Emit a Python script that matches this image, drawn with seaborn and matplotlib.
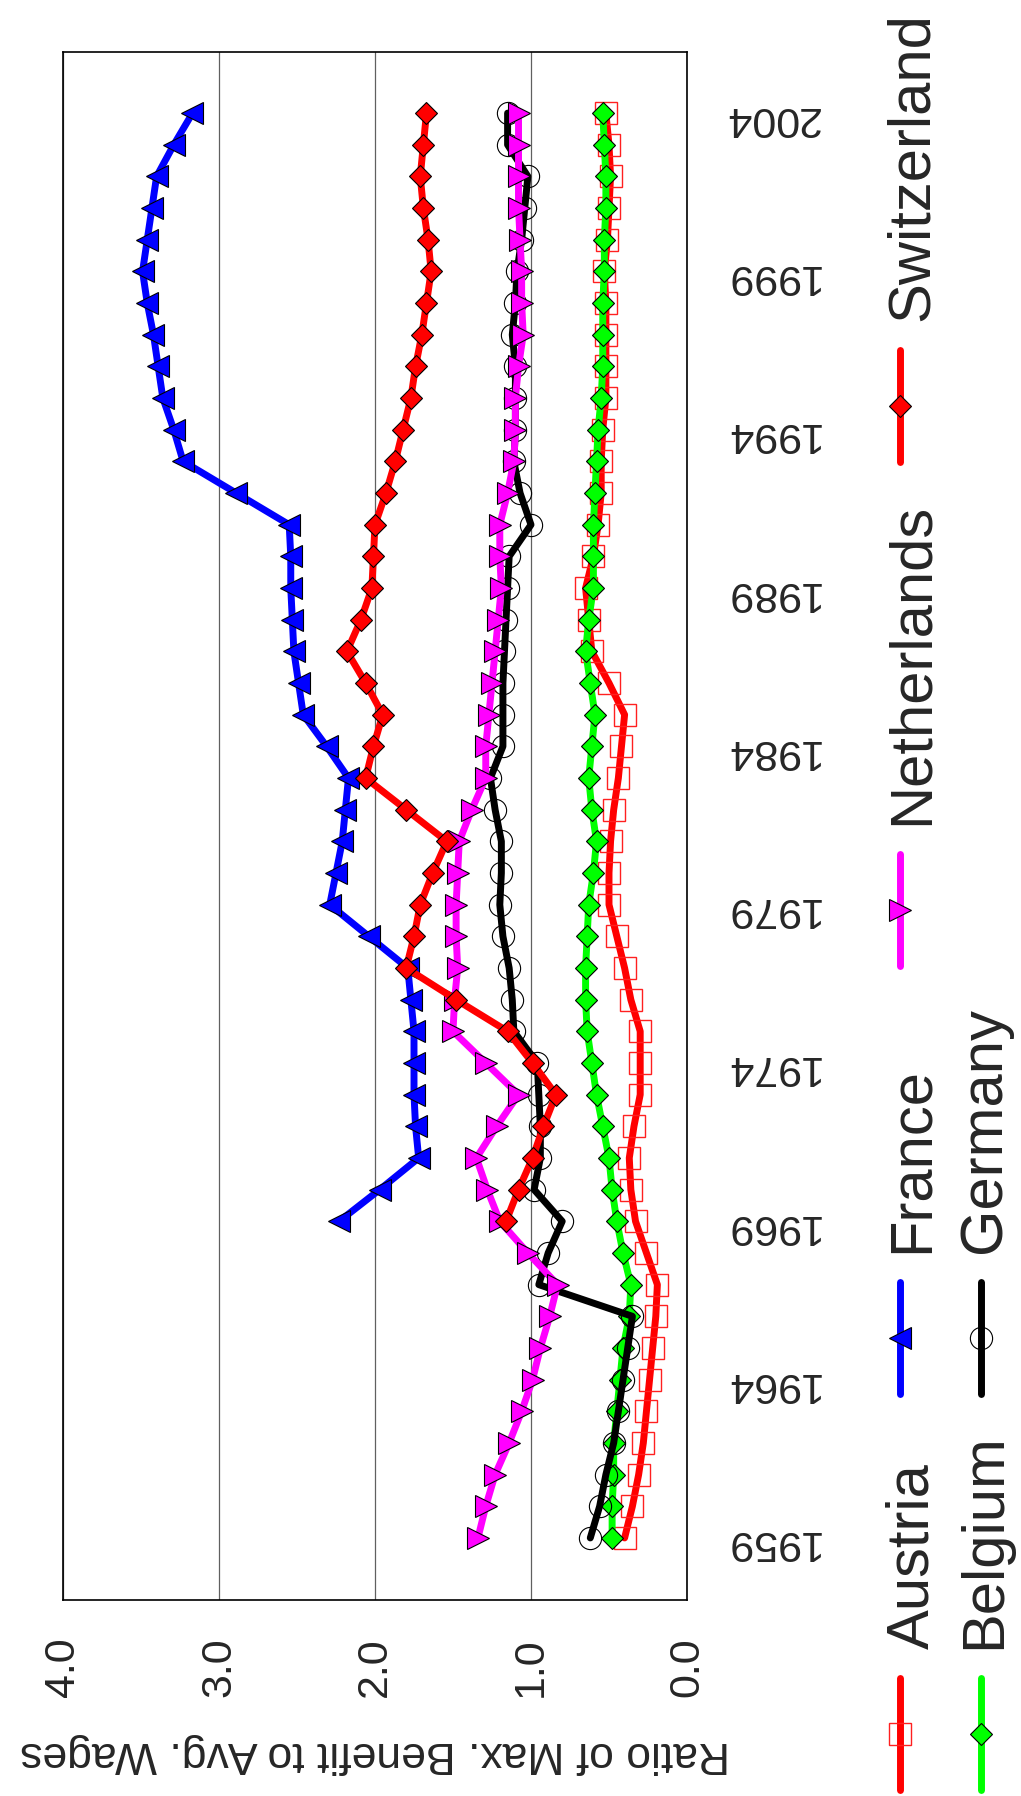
import matplotlib
matplotlib.use('Agg')
import pandas as pd
import matplotlib.pyplot as plt
import seaborn as sns

# data
years = list(range(1959, 2005))
years_late = list(range(1969, 2005))

austria = [0.40, 0.35, 0.31, 0.28, 0.26, 0.24, 0.22, 0.20, 0.19, 0.26,
           0.33, 0.36, 0.37, 0.34, 0.30, 0.30, 0.30, 0.36, 0.40, 0.45,
           0.50, 0.50, 0.49, 0.47, 0.44, 0.42, 0.40, 0.50, 0.61, 0.63,
           0.65, 0.60, 0.57, 0.55, 0.55, 0.54, 0.52, 0.52, 0.52, 0.52,
           0.53, 0.51, 0.50, 0.49, 0.50, 0.52]
belgium = [0.48, 0.48, 0.47, 0.47, 0.45, 0.43, 0.41, 0.37, 0.36, 0.41,
           0.45, 0.48, 0.50, 0.54, 0.58, 0.61, 0.64, 0.65, 0.65, 0.64,
           0.63, 0.60, 0.58, 0.61, 0.63, 0.61, 0.59, 0.62, 0.65, 0.63,
           0.60, 0.60, 0.60, 0.59, 0.58, 0.57, 0.55, 0.54, 0.54, 0.54,
           0.53, 0.53, 0.52, 0.52, 0.53, 0.54]
france = [2.23, 1.97, 1.72, 1.74, 1.75, 1.75, 1.75, 1.77, 1.79, 2.04,
          2.29, 2.25, 2.21, 2.19, 2.17, 2.31, 2.46, 2.49, 2.52, 2.53,
          2.54, 2.54, 2.55, 2.89, 3.23, 3.29, 3.36, 3.39, 3.42, 3.46,
          3.49, 3.46, 3.43, 3.40, 3.29, 3.17]
germany = [0.62, 0.56, 0.52, 0.47, 0.44, 0.41, 0.38, 0.35, 0.95, 0.89,
           0.80, 0.98, 0.94, 0.94, 0.95, 0.96, 1.11, 1.12, 1.14, 1.18,
           1.20, 1.19, 1.19, 1.23, 1.26, 1.18, 1.18, 1.18, 1.17, 1.16,
           1.15, 1.14, 1.00, 1.07, 1.11, 1.10, 1.10, 1.10, 1.12, 1.10,
           1.09, 1.06, 1.04, 1.02, 1.15, 1.15]
netherlands = [1.34, 1.29, 1.23, 1.14, 1.06, 0.99, 0.94, 0.88, 0.83, 1.02,
               1.20, 1.28, 1.35, 1.22, 1.08, 1.29, 1.50, 1.49, 1.47, 1.48,
               1.48, 1.47, 1.46, 1.38, 1.29, 1.29, 1.27, 1.25, 1.23, 1.21,
               1.19, 1.20, 1.20, 1.15, 1.11, 1.10, 1.10, 1.08, 1.05, 1.06,
               1.06, 1.07, 1.08, 1.08, 1.08, 1.08]
switzerland = [1.16, 1.08, 0.99, 0.92, 0.84, 0.99, 1.15, 1.48, 1.80, 1.75,
               1.71, 1.63, 1.54, 1.80, 2.06, 2.01, 1.95, 2.06, 2.18, 2.09,
               2.02, 2.01, 2.00, 1.93, 1.87, 1.82, 1.77, 1.74, 1.70, 1.67,
               1.64, 1.66, 1.69, 1.71, 1.69, 1.67]

value_ticks = [0, 1, 2, 3, 4]
year_ticks = list(range(1959, 2005, 5))
axis_label = 'Ratio of Max. Benefit to Avg. Wages'

styles = {
    'Austria': dict(color='#FF0000', marker='s', ms=16.5, mfc='none', mec='#FF2020', mew=1.0),
    'Belgium': dict(color='#00FF00', marker='D', ms=11.5, mfc='#00FF00', mec='black', mew=0.8),
    'France': dict(color='#0000FF', marker='<', ms=16, mfc='#0000FF', mec='black', mew=0.8),
    'Germany': dict(color='black', marker='o', ms=16, mfc='none', mec='black', mew=0.8),
    'Netherlands': dict(color='#FF00FF', marker='>', ms=16, mfc='#FF00FF', mec='black', mew=0.8),
    'Switzerland': dict(color='#FF0000', marker='D', ms=11.5, mfc='#FF0000', mec='black', mew=0.8),
}
series = [('Austria', years, austria), ('Belgium', years, belgium),
          ('France', years_late, france), ('Germany', years, germany),
          ('Netherlands', years, netherlands), ('Switzerland', years_late, switzerland)]

sns.set_style('white')
plt.rcParams['font.family'] = ['Liberation Sans', 'DejaVu Sans']

W, H = 1021, 1796
fig = plt.figure(figsize=(W / 100, H / 100), dpi=100)
ax = fig.add_axes([63 / W, 1 - 1600 / H, 624 / W, 1548 / H])

for name, yrs, vals in series:
    df = pd.DataFrame({'year': yrs, 'ratio': vals})
    sns.lineplot(data=df, x='ratio', y='year', orient='y', errorbar=None, ax=ax,
                 linewidth=5, solid_joinstyle='round', solid_capstyle='round',
                 **styles[name])

ax.set_xlim(4, 0)
ax.set_ylim(1957.04, 2005.93)
ax.set_xticks(value_ticks)
ax.set_xticklabels([f'{v:.1f}' for v in value_ticks])
ax.set_yticks(year_ticks)
ax.set_yticklabels([str(y) for y in year_ticks])
ax.yaxis.tick_right()
ax.tick_params(axis='x', length=0, pad=27, labelsize=31, labelrotation=90)
ax.tick_params(axis='y', length=0, pad=26, labelsize=31, labelrotation=180)
ax.grid(axis='x', color='#606060', linewidth=0.9)
ax.grid(axis='y', visible=False)
ax.set_axisbelow(True)
for sp in ax.spines.values():
    sp.set_visible(True)
    sp.set_color('black')
    sp.set_linewidth(1.2)
ax.set_ylabel('')
ax.set_xlabel(axis_label, fontsize=32, rotation=180, labelpad=26)

# legend, drawn rotated like the rest of the chart
lax = fig.add_axes([0, 0, 1, 1])
lax.set_xlim(0, W)
lax.set_ylim(H, 0)
lax.axis('off')
lax.patch.set_alpha(0)
legend_entries = [('Austria', 0, 1790), ('France', 0, 1394), ('Netherlands', 0, 966),
                  ('Switzerland', 0, 462), ('Belgium', 1, 1790), ('Germany', 1, 1394)]
line_x = [900, 981]
text_x = [928, 1000]
for name, col, y0 in legend_entries:
    st = styles[name]
    lax.plot([line_x[col], line_x[col]], [y0, y0 - 112], color=st['color'], linewidth=5,
             solid_capstyle='round')
    lax.plot([line_x[col]], [y0 - 56], linestyle='none', marker=st['marker'], ms=st['ms'],
             mfc=st['mfc'], mec=st['mec'], mew=st['mew'])
    lax.text(text_x[col], y0 - 141, name, fontsize=43, rotation=90,
             rotation_mode='anchor', ha='left', va='baseline')

fig.savefig('out.png', dpi=100)
